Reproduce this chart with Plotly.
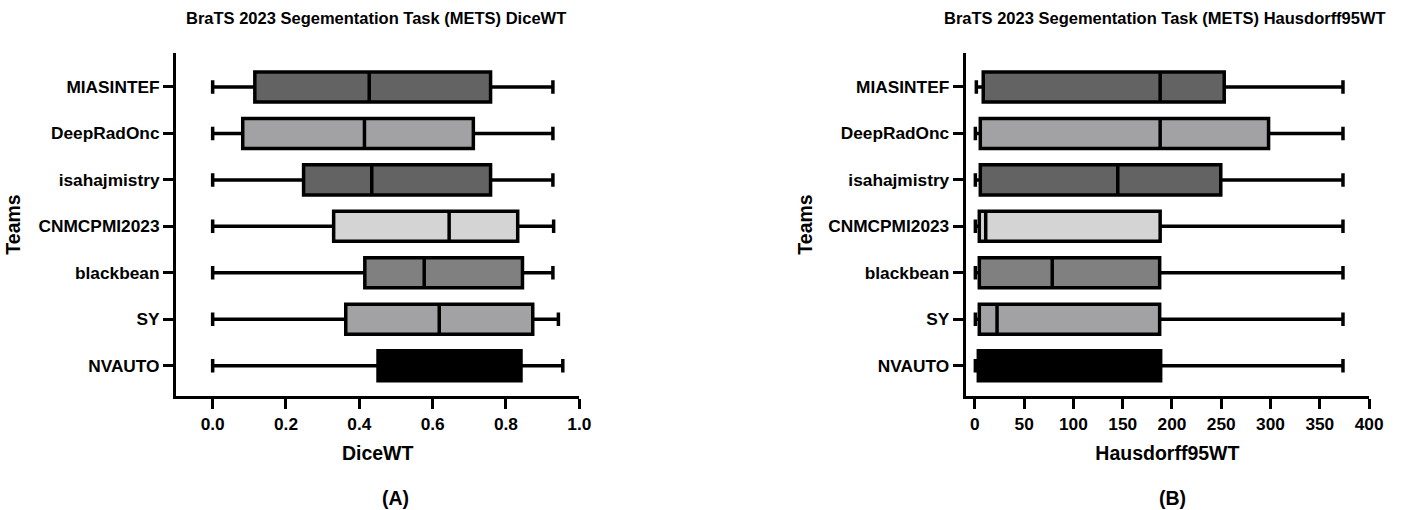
import plotly.graph_objects as go

teams = ["MIASINTEF", "DeepRadOnc", "isahajmistry", "CNMCPMI2023", "blackbean", "SY", "NVAUTO"]
fill_colors = ["#636363", "#a2a2a5", "#636363", "#d4d4d4", "#808080", "#a2a2a5", "#000000"]

dice_min = [0.0, 0.0, 0.0, 0.0, 0.0, 0.0, 0.0]
dice_q1 = [0.115, 0.082, 0.248, 0.330, 0.415, 0.363, 0.451]
dice_med = [0.427, 0.414, 0.434, 0.645, 0.577, 0.618, 0.680]
dice_q3 = [0.758, 0.711, 0.758, 0.832, 0.845, 0.873, 0.841]
dice_max = [0.928, 0.928, 0.928, 0.930, 0.928, 0.943, 0.955]

hd_min = [1.5, 0.5, 0.5, 0.5, 0.5, 0.5, 0.5]
hd_q1 = [8.5, 5.5, 5.5, 4.5, 4.5, 4.5, 3.5]
hd_med = [188.0, 188.0, 145.0, 11.0, 78.5, 22.5, 10.0]
hd_q3 = [253.0, 298.0, 249.5, 188.0, 187.5, 187.5, 188.5]
hd_max = [373.5, 373.5, 373.5, 373.5, 373.5, 373.5, 373.5]

FONT = "Liberation Sans"
W, H = 1405, 510

fig = go.Figure()

for i, t in enumerate(teams):
    fig.add_trace(go.Box(
        y=[t], q1=[dice_q1[i]], median=[dice_med[i]], q3=[dice_q3[i]],
        lowerfence=[dice_min[i]], upperfence=[dice_max[i]],
        orientation="h", fillcolor=fill_colors[i],
        line=dict(color="black", width=3.5), width=0.646, whiskerwidth=0.45,
        boxpoints=False, showlegend=False, hoverinfo="skip",
        xaxis="x", yaxis="y"))
    fig.add_trace(go.Box(
        y=[t], q1=[hd_q1[i]], median=[hd_med[i]], q3=[hd_q3[i]],
        lowerfence=[hd_min[i]], upperfence=[hd_max[i]],
        orientation="h", fillcolor=fill_colors[i],
        line=dict(color="black", width=3.5), width=0.646, whiskerwidth=0.45,
        boxpoints=False, showlegend=False, hoverinfo="skip",
        xaxis="x2", yaxis="y2"))

ydom = [1 - 396 / H, 1 - 53 / H]
axis_common = dict(
    showline=True, linecolor="black", linewidth=3,
    ticks="outside", ticklen=10, tickwidth=3, tickcolor="black",
    showgrid=False, zeroline=False, automargin=False,
    tickfont=dict(family=FONT, size=17.3, color="black", weight="bold"),
)
title_font = dict(family=FONT, size=19.5, color="black", weight="bold")

fig.update_layout(
    template="none",
    width=W, height=H,
    margin=dict(l=0, r=0, t=0, b=0, pad=0),
    paper_bgcolor="white", plot_bgcolor="white",
    font=dict(family=FONT, color="black"),
    xaxis=dict(domain=[176 / W, 579.3 / W], range=[-0.1, 1.0],
               tickvals=[0, 0.2, 0.4, 0.6, 0.8, 1.0],
               ticktext=["0.0", "0.2", "0.4", "0.6", "0.8", "1.0"],
               anchor="y",
               title=dict(text="DiceWT", standoff=14, font=title_font),
               **axis_common),
    yaxis=dict(domain=ydom, range=[6.65, -0.73], type="category",
               categoryorder="array", categoryarray=teams, anchor="x",
               title=dict(text="Teams", standoff=13, font=title_font),
               **axis_common),
    xaxis2=dict(domain=[965.7 / W, 1369.1 / W], range=[-9.3, 400],
                tickvals=[0, 50, 100, 150, 200, 250, 300, 350, 400],
                anchor="y2",
                title=dict(text="Hausdorff95WT", standoff=14, font=title_font),
                **axis_common),
    yaxis2=dict(domain=ydom, range=[6.65, -0.73], type="category",
                categoryorder="array", categoryarray=teams, anchor="x2",
                title=dict(text="Teams", standoff=11, font=title_font),
                **axis_common),
    annotations=[
        dict(text="BraTS 2023 Segementation Task (METS) DiceWT", x=376 / W, y=1 - 18 / H,
             xref="paper", yref="paper", showarrow=False, xanchor="center", yanchor="middle",
             font=dict(family=FONT, size=16.5, color="black", weight="bold")),
        dict(text="BraTS 2023 Segementation Task (METS) Hausdorff95WT", x=1165 / W, y=1 - 18 / H,
             xref="paper", yref="paper", showarrow=False, xanchor="center", yanchor="middle",
             font=dict(family=FONT, size=16.5, color="black", weight="bold")),
        dict(text="(A)", x=395.5 / W, y=1 - 498 / H,
             xref="paper", yref="paper", showarrow=False, xanchor="center", yanchor="middle",
             font=dict(family=FONT, size=19.5, color="black", weight="bold")),
        dict(text="(B)", x=1172 / W, y=1 - 498 / H,
             xref="paper", yref="paper", showarrow=False, xanchor="center", yanchor="middle",
             font=dict(family=FONT, size=19.5, color="black", weight="bold")),
    ],
)

fig.write_html(
    "out.html",
    config={"displayModeBar": False, "responsive": False},
    post_script="document.body.style.margin='0px';document.documentElement.style.overflow='hidden';document.body.style.overflow='hidden';",
)
